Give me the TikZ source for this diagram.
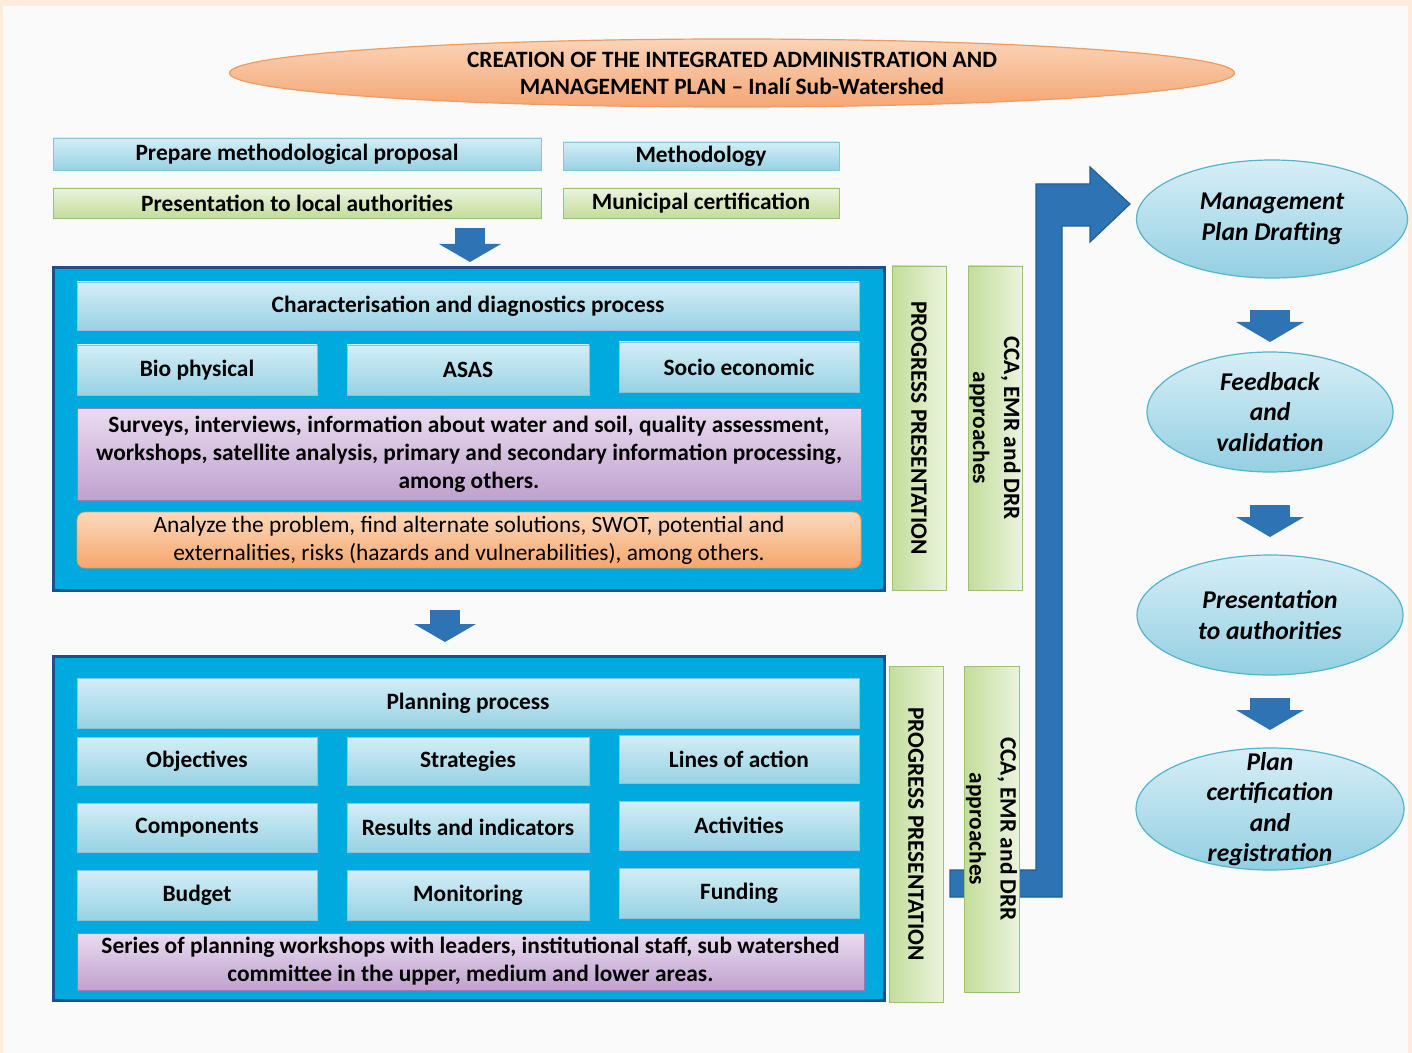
\documentclass[tikz,border=0pt]{standalone}
\usepackage{fontspec}
\setmainfont{Carlito}
\usepackage{tikz}
\usetikzlibrary{arrows.meta,shapes.geometric}

\definecolor{peachbg}{HTML}{FDEBDD}
\definecolor{pagebg}{HTML}{FAFAFA}
\definecolor{cyantop}{HTML}{D3EEF6}
\definecolor{cyanbot}{HTML}{98D2E4}
\definecolor{cyanedge}{HTML}{86C6DA}
\definecolor{greentop}{HTML}{EBF3DE}
\definecolor{greenbot}{HTML}{C3DD9A}
\definecolor{greenedge}{HTML}{95C473}
\definecolor{purpletop}{HTML}{EADCF0}
\definecolor{purplebot}{HTML}{BFA2CE}
\definecolor{purpleedge}{HTML}{9A7BB0}
\definecolor{orangetop}{HTML}{FCD9BD}
\definecolor{orangebot}{HTML}{F6A66C}
\definecolor{orangeedge}{HTML}{F2964F}
\definecolor{framefill}{HTML}{00A9DE}
\definecolor{frameedge}{HTML}{1E4E8C}
\definecolor{arrowblue}{HTML}{2E74B5}
\definecolor{arrowedge}{HTML}{245E95}
\definecolor{ovaltop}{HTML}{D7EEF6}
\definecolor{ovalbot}{HTML}{93CFE2}
\definecolor{ovaledge}{HTML}{52B4CD}
\definecolor{titletop}{HTML}{FAD4B8}
\definecolor{titlebot}{HTML}{F4A674}
\definecolor{titleedge}{HTML}{F19A62}

\tikzset{
  cyanbox/.style={draw=cyanedge, top color=cyantop, bottom color=cyanbot, inner sep=0pt,
    align=center, font=\bfseries\fontsize{11.7}{14}\selectfont},
  greenbox/.style={cyanbox, draw=greenedge, top color=greentop, bottom color=greenbot},
  purplebox/.style={cyanbox, draw=purpleedge, top color=purpletop, bottom color=purplebot},
  orangebox/.style={cyanbox, draw=orangeedge, top color=orangetop, bottom color=orangebot,
    rounded corners=4pt, font=\fontsize{11.7}{14}\selectfont},
  greenbar/.style={draw=greenedge, left color=greenbot, right color=greentop, inner sep=0pt},
  bartext/.style={rotate=-90, align=center, font=\bfseries\fontsize{11.7}{15.5}\selectfont},
  procframe/.style={draw=frameedge, line width=1.5pt, fill=framefill, inner sep=0pt},
  oval/.style={ellipse, draw=ovaledge, line width=0.6pt, top color=ovaltop, bottom color=ovalbot, inner sep=0pt},
  ovaltext/.style={align=center, font=\bfseries\itshape\fontsize{12.8}{15.25}\selectfont},
  titletext/.style={align=center, font=\bfseries\fontsize{11.7}{13.5}\selectfont},
  blkarrow/.style={line width=15pt, draw=arrowblue, -{Triangle[width=31pt,length=9pt,line width=0pt]}},
  blkarrowR/.style={line width=20pt, draw=arrowblue, -{Triangle[width=34pt,length=10pt,line width=0pt]}},
}

\begin{document}
\begin{tikzpicture}[x=0.5pt,y=-0.5pt]
  \fill[peachbg] (0,0) rectangle (1412,1053);
  \fill[pagebg] (3,6) rectangle (1408,1053);

  \node[oval, minimum width=502.5pt, minimum height=34pt, top color=titletop, bottom color=titlebot, draw=titleedge] (title) at (732,73) {};
  \node[titletext] (titlelbl) at (title) {CREATION OF THE INTEGRATED ADMINISTRATION AND\\MANAGEMENT PLAN -- Inalí Sub-Watershed};

  \node[cyanbox, minimum width=244pt, minimum height=16pt] (prep) at (297,154) {Prepare methodological proposal};
  \node[cyanbox, minimum width=138pt, minimum height=14pt] (method) at (701,156) {Methodology};
  \node[greenbox, minimum width=244pt, minimum height=15pt] (present) at (297,203) {Presentation to local authorities};
  \node[greenbox, minimum width=138pt, minimum height=15pt] (muni) at (701,203) {Municipal certification};

  \coordinate (a1s) at (470,228);
  \coordinate (a1e) at (470,262);
  \draw[blkarrow] (a1s) -- (a1e);

  \node[procframe, minimum width=415.5pt, minimum height=161pt] (diag) at (468.5,429) {};
  \node[cyanbox, minimum width=391pt, minimum height=24pt] (charac) at (468,306) {Characterisation and diagnostics process};
  \node[cyanbox, minimum width=120pt, minimum height=25pt] (bio) at (197,370) {Bio physical};
  \node[cyanbox, minimum width=121pt, minimum height=25pt] (asas) at (468,370) {ASAS};
  \node[cyanbox, minimum width=120pt, minimum height=25pt] (socio) at (739,367) {Socio economic};
  \node[purplebox, minimum width=392pt, minimum height=46pt] (surveys) at (469,454)
    {Surveys, interviews, information about water and soil, quality assessment,\\workshops, satellite analysis, primary and secondary information processing,\\among others.};
  \node[orangebox, minimum width=392pt, minimum height=28pt] (analyze) at (469,540)
    {Analyze the problem, find alternate solutions, SWOT, potential and\\externalities, risks (hazards and vulnerabilities), among others.};

  \coordinate (a2s) at (445,610);
  \coordinate (a2e) at (445,642);
  \draw[blkarrow] (a2s) -- (a2e);

  \node[procframe, minimum width=415.5pt, minimum height=172pt] (plan) at (468.5,828) {};
  \node[cyanbox, minimum width=391pt, minimum height=25pt] (planning) at (468,703) {Planning process};
  \node[cyanbox, minimum width=120pt, minimum height=24pt] (obj) at (197,761) {Objectives};
  \node[cyanbox, minimum width=121pt, minimum height=24pt] (strat) at (468,761) {Strategies};
  \node[cyanbox, minimum width=120pt, minimum height=24pt] (lines) at (739,759) {Lines of action};
  \node[cyanbox, minimum width=120pt, minimum height=24.5pt] (comp) at (197,827.5) {Components};
  \node[cyanbox, minimum width=121pt, minimum height=24.5pt] (results) at (468,827.5) {Results and indicators};
  \node[cyanbox, minimum width=120pt, minimum height=24.5pt] (activ) at (739,825.5) {Activities};
  \node[cyanbox, minimum width=120pt, minimum height=25pt] (budget) at (197,895) {Budget};
  \node[cyanbox, minimum width=121pt, minimum height=25pt] (monit) at (468,895) {Monitoring};
  \node[cyanbox, minimum width=120pt, minimum height=25pt] (fund) at (739,893) {Funding};
  \node[purplebox, minimum width=393.5pt, minimum height=28.5pt] (series) at (470.5,961.5)
    {Series of planning workshops with leaders, institutional staff, sub watershed\\committee in the upper, medium and lower areas.};

  \filldraw[fill=arrowblue, draw=arrowedge, line width=0.6pt]
    (950,897) -- (1062,897) -- (1062,226) -- (1090,226) -- (1090,242) -- (1130,204)
    -- (1090,167) -- (1090,184) -- (1036,184) -- (1036,870) -- (950,870) -- cycle;

  \node[greenbar, minimum width=27pt, minimum height=162pt] (prog1) at (919,428) {};
  \node[bartext] (prog1lbl) at (prog1) {PROGRESS PRESENTATION};
  \node[greenbar, minimum width=27pt, minimum height=162pt] (cca1) at (995,428) {};
  \node[bartext] (cca1lbl) at (cca1) {CCA, EMR and DRR\\approaches};
  \node[greenbar, minimum width=27pt, minimum height=168pt] (prog2) at (916,834) {};
  \node[bartext] (prog2lbl) at (prog2) {PROGRESS PRESENTATION};
  \node[greenbar, minimum width=27.5pt, minimum height=163pt] (cca2) at (991.5,829) {};
  \node[bartext] (cca2lbl) at (cca2) {CCA, EMR and DRR\\approaches};

  \node[oval, minimum width=135.5pt, minimum height=59pt] (draft) at (1272,219) {};
  \node[ovaltext] (draftlbl) at (draft) {Management\\Plan Drafting};
  \node[oval, minimum width=123pt, minimum height=60pt] (feed) at (1270,412) {};
  \node[ovaltext] (feedlbl) at (feed) {Feedback\\and\\validation};
  \node[oval, minimum width=133pt, minimum height=60pt] (presauth) at (1270,615) {};
  \node[ovaltext] (presauthlbl) at (presauth) {Presentation\\to authorities};
  \node[oval, minimum width=134pt, minimum height=61pt] (cert) at (1270,809) {};
  \node[ovaltext] (certlbl) at (cert) {Plan\\certification\\and\\registration};

  \coordinate (r1s) at (1270,310);
  \coordinate (r1e) at (1270,342);
  \coordinate (r2s) at (1270,505);
  \coordinate (r2e) at (1270,537);
  \coordinate (r3s) at (1270,698);
  \coordinate (r3e) at (1270,730);
  \draw[blkarrowR] (r1s) -- (r1e);
  \draw[blkarrowR] (r2s) -- (r2e);
  \draw[blkarrowR] (r3s) -- (r3e);
\end{tikzpicture}
\end{document}
